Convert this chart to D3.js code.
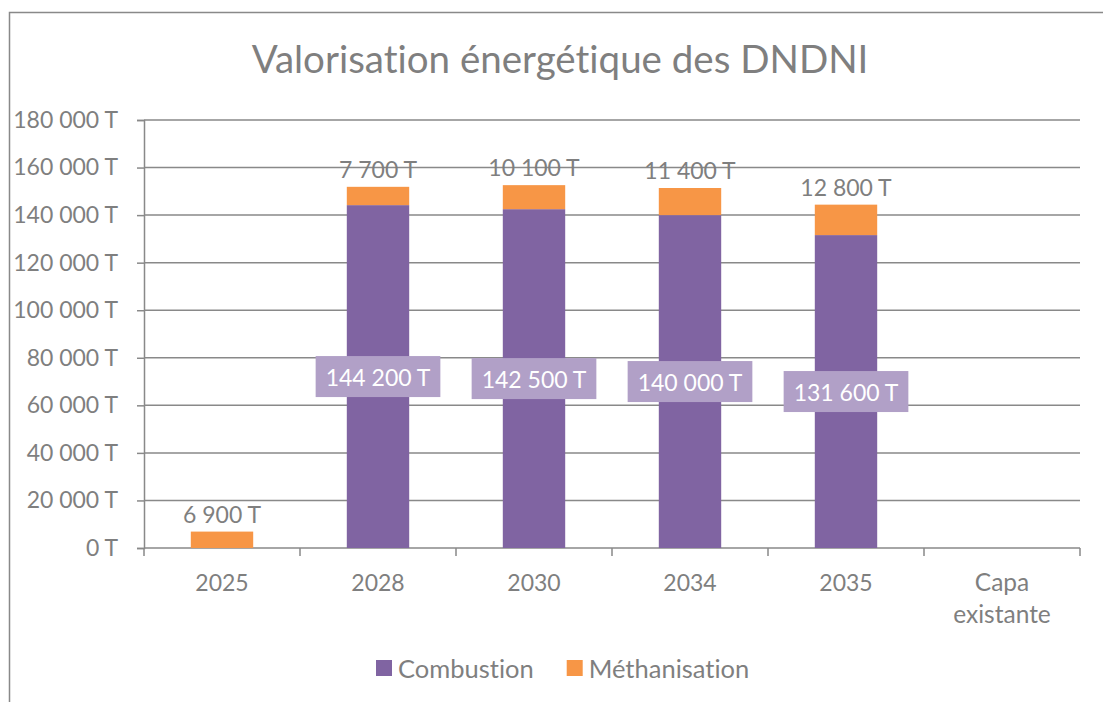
<!DOCTYPE html>
<html>
<head>
<meta charset="utf-8">
<script src="https://cdn.jsdelivr.net/npm/d3@7"></script>
<style>
  html, body { margin: 0; padding: 0; background: #fff; }
  svg { display: block; }
  text { font-family: Lato, "Open Sans", sans-serif; font-variant-ligatures: none; font-feature-settings: "liga" 0, "dlig" 0; }
</style>
</head>
<body>
<svg id="chart" width="1103" height="702"></svg>
<script>
// Tonnages per year (T)
const categories = ["2025", "2028", "2030", "2034", "2035", "Capa existante"];
const combustion = [0, 144200, 142500, 140000, 131600, 0];
const methanisation = [6900, 7700, 10100, 11400, 12800, 0];
const yTicks = [0, 20000, 40000, 60000, 80000, 100000, 120000, 140000, 160000, 180000];
const seriesNames = ["Combustion", "Méthanisation"];
const seriesColors = ["#8064a2", "#f79646"];

const fmt = v => d3.format(",")(v).replace(/,/g, " ") + " T";

const svg = d3.select("#chart");
const textColor = "#7f7f7f";
const gridColor = "#898989";
const numSize = 23;

// outer frame
svg.append("rect")
  .attr("x", 9.5).attr("y", 12.5)
  .attr("width", 1120).attr("height", 720)
  .attr("fill", "none").attr("stroke", gridColor).attr("stroke-width", 1.5);

const plot = { left: 144, right: 1080, top: 120, bottom: 548 };

const x = d3.scaleBand().domain(categories)
  .range([plot.left, plot.right]).paddingInner(0.6).paddingOuter(0.3);
const y = d3.scaleLinear().domain([0, 180000]).range([plot.bottom, plot.top]);

// title
svg.append("text")
  .attr("x", 560).attr("y", 73)
  .attr("text-anchor", "middle")
  .attr("font-size", 38.5)
  .attr("fill", textColor)
  .text("Valorisation énergétique des DNDNI");

// horizontal gridlines and y axis
const yAxis = d3.axisLeft(y).tickValues(yTicks).tickFormat(fmt)
  .tickSize(7).tickPadding(19);
const gy = svg.append("g").attr("transform", `translate(${plot.left},0)`).call(yAxis);
gy.select(".domain").attr("stroke", gridColor).attr("stroke-width", 1.5);
gy.selectAll(".tick line").attr("stroke", gridColor).attr("stroke-width", 1.5);
gy.selectAll(".tick text").attr("fill", textColor).attr("font-size", numSize);

svg.append("g").selectAll("line").data(yTicks.filter(d => d > 0)).join("line")
  .attr("x1", plot.left).attr("x2", plot.right)
  .attr("y1", d => y(d)).attr("y2", d => y(d))
  .attr("stroke", gridColor).attr("stroke-width", 1.5);

// x axis with ticks on band boundaries
svg.append("line")
  .attr("x1", plot.left).attr("x2", plot.right)
  .attr("y1", plot.bottom).attr("y2", plot.bottom)
  .attr("stroke", gridColor).attr("stroke-width", 1.5);
const step = x.step();
const boundaries = d3.range(categories.length + 1).map(i => plot.left + i * step);
svg.append("g").selectAll("line").data(boundaries).join("line")
  .attr("x1", d => d).attr("x2", d => d)
  .attr("y1", plot.bottom).attr("y2", plot.bottom + 8)
  .attr("stroke", gridColor).attr("stroke-width", 1.5);

const xl = svg.append("g").selectAll("text").data(categories).join("text")
  .attr("x", d => x(d) + x.bandwidth() / 2)
  .attr("y", 591)
  .attr("text-anchor", "middle")
  .attr("font-size", d => /\d/.test(d) ? numSize : 24.5)
  .attr("fill", textColor);
xl.each(function(d) {
  const words = d.split(" ");
  const t = d3.select(this);
  if (words.length === 1) { t.text(d); return; }
  words.forEach((w, i) => {
    t.append("tspan").attr("x", x(d) + x.bandwidth() / 2)
      .attr("dy", i === 0 ? 0 : 32).text(w);
  });
});

// stacked bars
const rows = categories.map((c, i) => ({ cat: c, Combustion: combustion[i], "Méthanisation": methanisation[i] }));
const stack = d3.stack().keys(seriesNames)(rows);

svg.append("g").selectAll("g").data(stack).join("g")
  .attr("fill", (d, i) => seriesColors[i])
  .selectAll("rect").data(d => d.filter(p => p[1] - p[0] > 0)).join("rect")
  .attr("x", d => x(d.data.cat))
  .attr("width", x.bandwidth())
  .attr("y", d => y(d[1]))
  .attr("height", d => y(d[0]) - y(d[1]));

// combustion labels: boxed, centred in segment
const combLayer = svg.append("g");
stack[0].filter(p => p[1] - p[0] > 0).forEach(p => {
  const cx = x(p.data.cat) + x.bandwidth() / 2;
  const cy = (y(p[0]) + y(p[1])) / 2;
  const g = combLayer.append("g");
  const t = g.append("text")
    .attr("x", cx).attr("y", cy)
    .attr("text-anchor", "middle").attr("dominant-baseline", "central")
    .attr("font-size", numSize).attr("fill", "#ffffff")
    .text(fmt(p.data.Combustion));
  const w = t.node().getComputedTextLength() + 20;
  g.insert("rect", "text")
    .attr("x", cx - w / 2).attr("y", cy - 20.5)
    .attr("width", w).attr("height", 41)
    .attr("fill", "#b1a0c7");
});

// méthanisation labels above the stack
svg.append("g").selectAll("text")
  .data(stack[1].filter(p => p[1] - p[0] > 0)).join("text")
  .attr("x", d => x(d.data.cat) + x.bandwidth() / 2)
  .attr("y", d => y(d[1]) - 18)
  .attr("text-anchor", "middle").attr("dominant-baseline", "central")
  .attr("font-size", numSize).attr("fill", textColor)
  .text(d => fmt(d.data["Méthanisation"]));

// legend
const legend = svg.append("g").attr("transform", "translate(376,668)");
let lx = 0;
seriesNames.forEach((name, i) => {
  const g = legend.append("g").attr("transform", `translate(${lx},0)`);
  g.append("rect").attr("x", 0).attr("y", -8).attr("width", 16).attr("height", 16)
    .attr("fill", seriesColors[i]);
  const t = g.append("text").attr("x", 22).attr("y", 0)
    .attr("dominant-baseline", "central")
    .attr("font-size", 25.5).attr("fill", textColor).text(name);
  lx += 22 + t.node().getComputedTextLength() + 33;
});
</script>
</body>
</html>
